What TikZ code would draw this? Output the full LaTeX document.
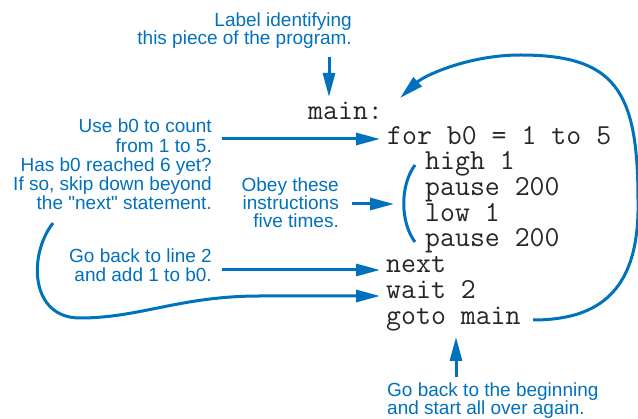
\documentclass[tikz,border=0pt]{standalone}
\usepackage{fontspec}
\setmainfont{Liberation Sans}[Ligatures=TeXOff]
\usetikzlibrary{arrows.meta}
\definecolor{ink}{RGB}{0,113,188}
\begin{document}
\begin{tikzpicture}[x=1pt,y=-1pt,
  note/.style={text=ink, inner sep=0pt, align=right, anchor=base east},
  code/.style={inner sep=0pt, anchor=base west, text=black!85, font=\ttfamily\fontsize{29}{29}\selectfont},
  arr/.style={draw=ink, line width=3pt, -{Triangle[length=24pt,width=12pt]}},
  wire/.style={draw=ink, line width=3pt}]
\useasboundingbox (0,0) rectangle (638,419);

% code lines
\node[code] (main)   at (308,120) {main:};
\node[code] (for)    at (387,145) {for b0 = 1 to 5};
\node[code] (high)   at (425,170) {high 1};
\node[code] (pause1) at (425,196) {pause 200};
\node[code] (low)    at (425,222) {low 1};
\node[code] (pause2) at (425,247) {pause 200};
\node[code] (next)   at (386,273) {next};
\node[code] (wait)   at (386,299) {wait 2};
\node[code] (goto)   at (386,325) {goto main};

% notes (base anchor = baseline of the last line)
\node[note, font=\fontsize{19}{18}\selectfont] (lbl) at (352,45)
  {Label identifying\\this piece of the program.};
\node[note, font=\fontsize{19}{19.25}\selectfont] (use) at (212,210)
  {Use b0 to count\\from 1 to 5.\hspace*{6pt}\\Has b0 reached 6 yet?\\If so, skip down beyond\\the "next" statement.};
\node[note, font=\fontsize{19}{18}\selectfont] (obey) at (339,228)
  {Obey these\\instructions\\five times.};
\node[note, font=\fontsize{19}{19}\selectfont] (back) at (212,282)
  {Go back to line 2\\and add 1 to b0.};
\node[text=ink, inner sep=0pt, align=left, anchor=base west, font=\fontsize{19}{18}\selectfont] (begin) at (387,415)
  {Go back to the beginning\\and start all over again.};

% connector end points
\coordinate (lt)   at (329,57);
\coordinate (mt)   at (329,97);
\coordinate (t1)   at (222,139);
\coordinate (t2)   at (352,204);
\coordinate (brk)  at (404,204);
\coordinate (t3)   at (222,270);
\coordinate (t4)   at (53,223);
\coordinate (gs)   at (533,320);
\coordinate (ge)   at (400,98);
\coordinate (bt)   at (456,377);
\coordinate (btip) at (456,337);

% connectors
\draw[arr] (lt) -- (mt);
\draw[arr, shorten >=7pt] (t1) -- (t1 -| for.west);
\draw[arr, shorten >=10pt] (t2) -- (brk);
\draw[wire] (415,165) .. controls (400,185) and (400,222) .. (415,242);
\draw[arr, shorten >=6pt] (t3) -- (t3 -| next.west);
\draw[arr] (t4) .. controls (28,255) and (30,318) .. (80,318)
  .. controls (140,318) and (180,296) .. (260,296) -- (380,296);
\draw[arr] (gs) .. controls (600,320) and (640,290) .. (638,200)
  .. controls (638,90) and (615,55) .. (520,55)
  .. controls (470,55) and (425,75) .. (ge);
\draw[arr] (bt) -- (btip);
\end{tikzpicture}
\end{document}
